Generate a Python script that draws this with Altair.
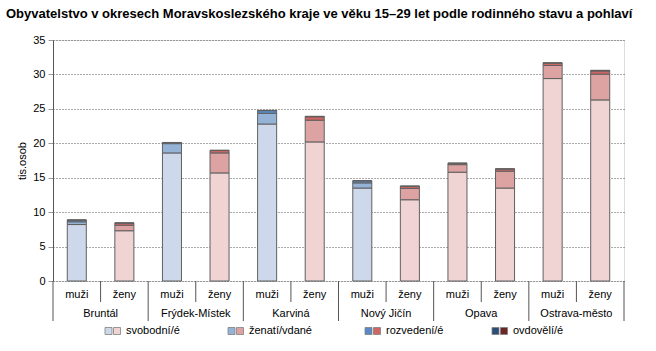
import altair as alt
import pandas as pd

# ---------------- data ----------------
districts = ["Bruntál", "Frýdek-Místek", "Karviná", "Nový Jičín", "Opava", "Ostrava-město"]
sexes = ["muži", "ženy"]
statuses = ["svobodní/é", "ženatí/vdané", "rozvedení/é", "ovdovělí/é"]

# values in thousands, order: district x (muži, ženy)
svobodni = [8.2, 7.3, 18.6, 15.7, 22.8, 20.2, 13.5, 11.8, 15.8, 13.5, 29.4, 26.3]
zenati = [0.4, 0.8, 1.35, 2.9, 1.55, 3.15, 0.75, 1.65, 1.1, 2.45, 1.9, 3.75]
rozvedeni = [0.25, 0.3, 0.15, 0.35, 0.4, 0.5, 0.3, 0.3, 0.2, 0.3, 0.35, 0.45]
ovdoveli = [0.02, 0.05, 0.02, 0.05, 0.03, 0.07, 0.02, 0.05, 0.02, 0.05, 0.04, 0.1]

# palette used by each bar (as drawn in the original)
bar_palette = ["blue", "pink", "blue", "pink", "blue", "pink",
               "blue", "pink", "pink", "pink", "pink", "pink"]

PAL = {
    "blue": ["#CDD9EA", "#95B3D7", "#5A8AC6", "#2C4D75"],
    "pink": ["#F0D3D3", "#DDA3A2", "#D06664", "#6E2525"],
}

TITLE = "Obyvatelstvo v okresech Moravskoslezského  kraje ve věku 15–29 let podle rodinného stavu a pohlaví"
FONT = "Liberation Sans"

# ---------------- build table ----------------
keys = [f"{d}|{s}" for d in districts for s in sexes]
series = [svobodni, zenati, rozvedeni, ovdoveli]
rows = []
for i, k in enumerate(keys):
    d, s = k.split("|")
    for j, st in enumerate(statuses):
        rows.append(dict(key=k, district=d, sex=s, status=st, order=j,
                         value=series[j][i], color=PAL[bar_palette[i]][j]))
df = pd.DataFrame(rows)

lab = pd.DataFrame([dict(key=k, district=k.split("|")[0], sex=k.split("|")[1]) for k in keys])

W, H = 571, 241
xscale = alt.Scale(domain=keys, paddingInner=0, paddingOuter=0)

bars = alt.Chart(df).mark_bar(
    stroke="#606060", strokeWidth=1, width=alt.RelativeBandSize(0.4)
).encode(
    x=alt.X("key:N", scale=xscale, sort=keys,
            axis=alt.Axis(labels=False, ticks=False, title=None, grid=False,
                          domainColor="#555555", domainWidth=1)),
    y=alt.Y("value:Q", stack="zero",
            scale=alt.Scale(domain=[0, 35], nice=False),
            axis=alt.Axis(values=list(range(0, 36, 5)), title="tis.osob",
                          grid=True, gridDash=[1, 2], gridColor="#555555",
                          domainColor="#555555", tickColor="#999999", tickSize=5,
                          labelFont=FONT, labelFontSize=11, labelColor="#000000",
                          labelPadding=3, titleFont=FONT, titleFontSize=11,
                          titleFontWeight="normal", titleColor="#000000",
                          titlePadding=5)),
    color=alt.Color("color:N", scale=None),
    order=alt.Order("order:Q"),
)

long_rules = alt.Chart(lab).transform_filter(alt.datum.sex == "muži").mark_rule(
    color="#555555", strokeWidth=1
).encode(
    x=alt.X("key:N", scale=xscale, sort=keys, bandPosition=0, axis=None),
    y=alt.value(H), y2=alt.value(H + 40),
)
end_rule = alt.Chart(lab).transform_filter(alt.datum.key == keys[-1]).mark_rule(
    color="#555555", strokeWidth=1
).encode(
    x=alt.X("key:N", scale=xscale, sort=keys, bandPosition=1, axis=None),
    y=alt.value(H), y2=alt.value(H + 40),
)
short_rules = alt.Chart(lab).transform_filter(alt.datum.sex == "ženy").mark_rule(
    color="#555555", strokeWidth=1
).encode(
    x=alt.X("key:N", scale=xscale, sort=keys, bandPosition=0, axis=None),
    y=alt.value(H), y2=alt.value(H + 21),
)
sex_text = alt.Chart(lab).mark_text(
    font=FONT, fontSize=11, color="#000000", baseline="middle", align="center"
).encode(
    x=alt.X("key:N", scale=xscale, sort=keys, axis=None),
    y=alt.value(H + 13.5), text="sex:N",
)
dist_text = alt.Chart(lab).transform_filter(alt.datum.sex == "muži").mark_text(
    font=FONT, fontSize=11, color="#000000", baseline="middle", align="center"
).encode(
    x=alt.X("key:N", scale=xscale, sort=keys, bandPosition=1, axis=None),
    y=alt.value(H + 33), text="district:N",
)

# manual legend (two swatches per entry)
LEG_X = [105, 228, 365, 492]   # absolute x of first swatch
LEG_Y = 331 - 40
OX = 53
legend_layers = []
for i, st in enumerate(statuses):
    one = pd.DataFrame([dict(label=st, blue=PAL["blue"][i], pink=PAL["pink"][i])])
    base = alt.Chart(one)
    legend_layers.append(base.mark_square(size=49, stroke="#808080", strokeWidth=0.8, opacity=1).encode(
        x=alt.value(LEG_X[i] - OX + 3.5), y=alt.value(LEG_Y), color=alt.Color("blue:N", scale=None)))
    legend_layers.append(base.mark_square(size=49, stroke="#808080", strokeWidth=0.8, opacity=1).encode(
        x=alt.value(LEG_X[i] - OX + 12), y=alt.value(LEG_Y), color=alt.Color("pink:N", scale=None)))
    legend_layers.append(base.mark_text(font=FONT, fontSize=11, color="#000000", align="left",
                                        baseline="middle").encode(
        x=alt.value(LEG_X[i] - OX + 21), y=alt.value(LEG_Y), text="label:N"))

chart = alt.layer(bars, long_rules, end_rule, short_rules, sex_text, dist_text, *legend_layers).properties(
    width=W, height=H,
    title=alt.TitleParams(TITLE, anchor="start", frame="group", font=FONT, fontSize=13,
                          fontWeight="bold", color="#000000", dx=-47, offset=13),
    autosize=alt.AutoSizeParams(type="none"),
    padding={"left": 53, "top": 40, "right": 32, "bottom": 70},
).configure_view(stroke="#555555", strokeWidth=1).configure(background="white")

chart.save("out.html", embed_options={"renderer": "svg", "actions": False})
